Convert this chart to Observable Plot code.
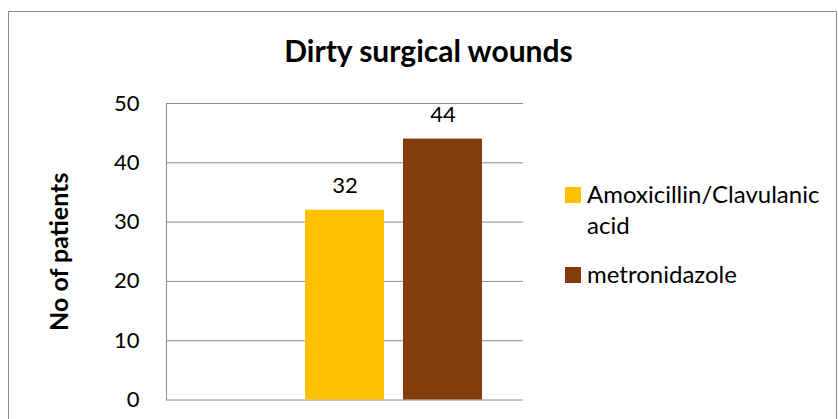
<!DOCTYPE html>
<html>
<head>
<meta charset="utf-8">
<script src="https://cdn.jsdelivr.net/npm/d3@7"></script>
<script src="https://cdn.jsdelivr.net/npm/@observablehq/plot@0.6"></script>
<style>
  html, body { margin: 0; padding: 0; background: #fff; }
  #wrap { position: relative; width: 838px; height: 419px; overflow: hidden; font-family: Lato, "Open Sans", sans-serif; }
  #border { position: absolute; left: 7.5px; top: 10.5px; width: 829px; height: 440px; border: 1px solid #8c8c8c; box-sizing: border-box; }
  #chart { position: absolute; left: 0; top: 0; }
  #title { position: absolute; left: 0; width: 857px; top: 32px; text-align: center; font-weight: bold; font-size: 30px; color: #000; line-height: 36px; white-space: nowrap; }
  .leg { position: absolute; font-size: 24px; color: #000; line-height: 31px; white-space: nowrap; }
  .sw { position: absolute; width: 16px; height: 16px; }
</style>
</head>
<body>
<div id="wrap">
  <div id="border"></div>
  <div id="chart"></div>
  <div id="title"></div>
  <div id="legend"></div>
</div>
<script>
const title = "Dirty surgical wounds";
const yLabel = "No of patients";
const series = ["Amoxicillin/Clavulanic acid", "metronidazole"];
const legendLines = [["Amoxicillin/Clavulanic", "acid"], ["metronidazole"]];
const values = [32, 44];
const colors = ["#FFC000", "#843C0C"];
const yTicks = [0, 10, 20, 30, 40, 50];
const blankSlot = "(empty series)";

const data = series.map((s, i) => ({series: s, value: values[i]}));

document.getElementById("title").textContent = title;

const plot = Plot.plot({
  width: 838,
  height: 419,
  marginLeft: 166,
  marginRight: 315,
  marginTop: 103,
  marginBottom: 19.5,
  style: {fontFamily: "Lato, 'Open Sans', sans-serif", background: "transparent"},
  x: {domain: [blankSlot, ...series], paddingInner: 0.19, paddingOuter: 0.4, axis: null},
  y: {domain: [0, 50]},
  color: {domain: series, range: colors},
  marks: [
    Plot.gridY(yTicks, {stroke: "#8c8c8c", strokeOpacity: 1, strokeWidth: 1}),
    Plot.frame({anchor: "left", stroke: "#8c8c8c"}),
    Plot.axisY(yTicks, {tickSize: 0, tickPadding: 27, fontSize: 22, label: null, fill: "#000"}),
    Plot.barY(data, {x: "series", y: "value", fill: "series"}),
    Plot.text(data, {x: "series", y: "value", text: d => String(d.value), lineAnchor: "bottom", dy: -17, fontSize: 22, fill: "#000"}),
    Plot.text([yLabel], {frameAnchor: "left", textAnchor: "middle", text: d => d, rotate: -90, dx: -107, fontSize: 25, fontWeight: "bold", fill: "#000"})
  ]
});
document.getElementById("chart").appendChild(plot);

const legend = document.getElementById("legend");
const legendTops = [187, 267];
legendLines.forEach((lines, i) => {
  const sw = document.createElement("div");
  sw.className = "sw";
  sw.style.left = "565px";
  sw.style.top = legendTops[i] + "px";
  sw.style.background = colors[i];
  legend.appendChild(sw);
  const t = document.createElement("div");
  t.className = "leg";
  t.style.left = "587px";
  t.style.top = (legendTops[i] - 9) + "px";
  t.innerHTML = lines.join("<br>");
  legend.appendChild(t);
});
</script>
</body>
</html>
